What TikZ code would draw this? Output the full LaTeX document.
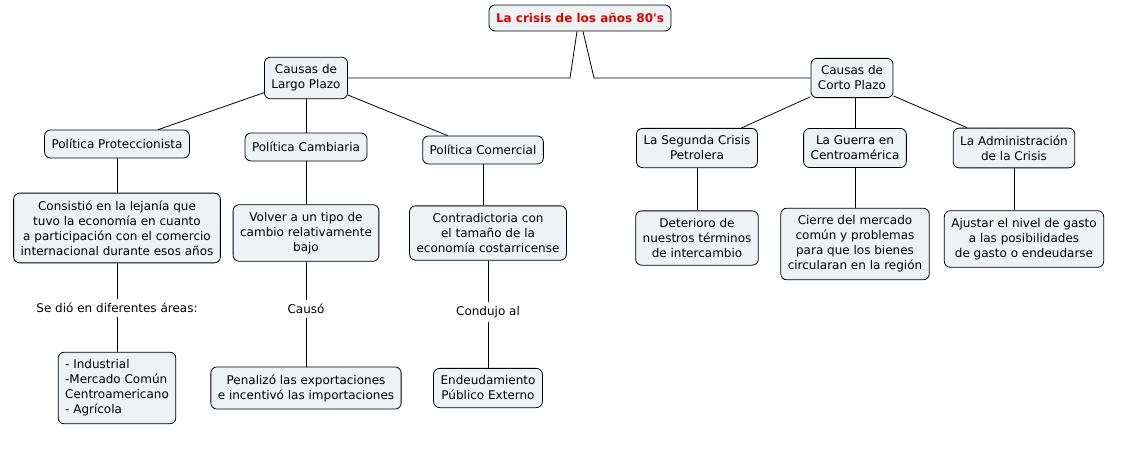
\documentclass[tikz,border=0pt]{standalone}
\usepackage{fontspec}
\setmainfont{DejaVu Sans}[Ligatures=TeXOff]
\usetikzlibrary{positioning}
\definecolor{conceptfill}{RGB}{237,243,245}
\definecolor{titlered}{RGB}{228,0,0}

\begin{document}
\begin{tikzpicture}[
    concept/.style={
        draw,
        rounded corners=6pt,
        fill=conceptfill,
        align=center,
        font=\fontsize{12}{15}\selectfont,
        inner xsep=7pt,
        inner ysep=7.5pt,
        minimum height=28pt,
        line width=0.8pt
    },
    linkword/.style={font=\fontsize{12}{15}\selectfont, inner sep=4pt},
    link/.style={line width=0.8pt},
    on grid
]
\useasboundingbox (0,0) rectangle (1122pt,-451pt);

\node[concept, text=titlered, minimum height=26pt, font=\fontsize{12}{15}\selectfont\bfseries] (crisis)
  at (580pt,-18pt) {La crisis de los años 80's};
\node[concept, below left=60pt and 274pt of crisis] (largo)
  {Causas de\\Largo Plazo};
\node[concept, below right=60pt and 272pt of crisis] (corto)
  {Causas de\\Corto Plazo};

% largo plazo
\node[concept, below left=66pt and 189pt of largo] (protec)
  {Política Proteccionista};
\node[concept, below=69pt of largo] (cambiaria)
  {Política Cambiaria};
\node[concept, below right=72pt and 177pt of largo] (comercial)
  {Política Comercial};

\node[concept, below=84pt of protec] (lejania)
  {Consistió en la lejanía que\\tuvo la economía en cuanto\\
  a participación con el comercio\\internacional durante esos años};
\node[concept, below=86pt of cambiaria] (cambio)
  {Volver a un tipo de\\cambio relativamente\\bajo};
\node[concept, below=83pt of comercial, xshift=5pt] (tamano)
  {Contradictoria con\\el tamaño de la\\economía costarricense};

\node[linkword, below=80pt of lejania] (sedio) {Se dió en diferentes áreas:};
\node[linkword, below=76pt of cambio] (causo) {Causó};
\node[linkword, below=79pt of tamano] (condujo) {Condujo al};

\node[concept, align=left, below=80pt of sedio] (areas)
  {- Industrial\\-Mercado Común\\Centroamericano\\- Agrícola};
\node[concept, below=79pt of causo] (penalizo)
  {Penalizó las exportaciones\\e incentivó las importaciones};
\node[concept, below=76pt of condujo] (deuda)
  {Endeudamiento\\Público Externo};

% corto plazo
\node[concept, below left=70pt and 155pt of corto] (petrolera)
  {La Segunda Crisis\\Petrolera};
\node[concept, below=70pt of corto, xshift=3pt] (guerra)
  {La Guerra en\\Centroamérica};
\node[concept, below right=70pt and 162pt of corto] (admin)
  {La Administración\\de la Crisis};

\node[concept, below=90pt of petrolera] (terminos)
  {Deterioro de\\nuestros términos\\de intercambio};
\node[concept, below=96pt of guerra] (mercado)
  {Cierre del mercado\\común y problemas\\para que los bienes\\circularan en la región};
\node[concept, below=91pt of admin, xshift=10pt] (gasto)
  {Ajustar el nivel de gasto\\a las posibilidades\\de gasto o endeudarse};

\draw[link] ([xshift=-3pt]crisis.south) -- ([xshift=-10pt]crisis.south |- largo.east) -- (largo.east);
\draw[link] ([xshift=3pt]crisis.south) -- ([xshift=14pt]crisis.south |- corto.west) -- (corto.west);

\draw[link] (largo) -- (protec);
\draw[link] (largo) -- (cambiaria);
\draw[link] (largo) -- (comercial);
\draw[link] (corto) -- (petrolera);
\draw[link] (corto.south -| guerra) -- (guerra);
\draw[link] (corto) -- (admin);

\draw[link] (protec) -- (lejania);
\draw[link] (cambiaria) -- (cambio);
\draw[link] (comercial.south) -- (comercial.south |- tamano.north);
\draw[link] (lejania) -- (sedio) -- (areas);
\draw[link] (cambio) -- (causo) -- (penalizo);
\draw[link] (tamano) -- (condujo) -- (deuda);

\draw[link] (petrolera) -- (terminos);
\draw[link] (guerra) -- (mercado);
\draw[link] (admin.south) -- (admin.south |- gasto.north);
\end{tikzpicture}
\end{document}
